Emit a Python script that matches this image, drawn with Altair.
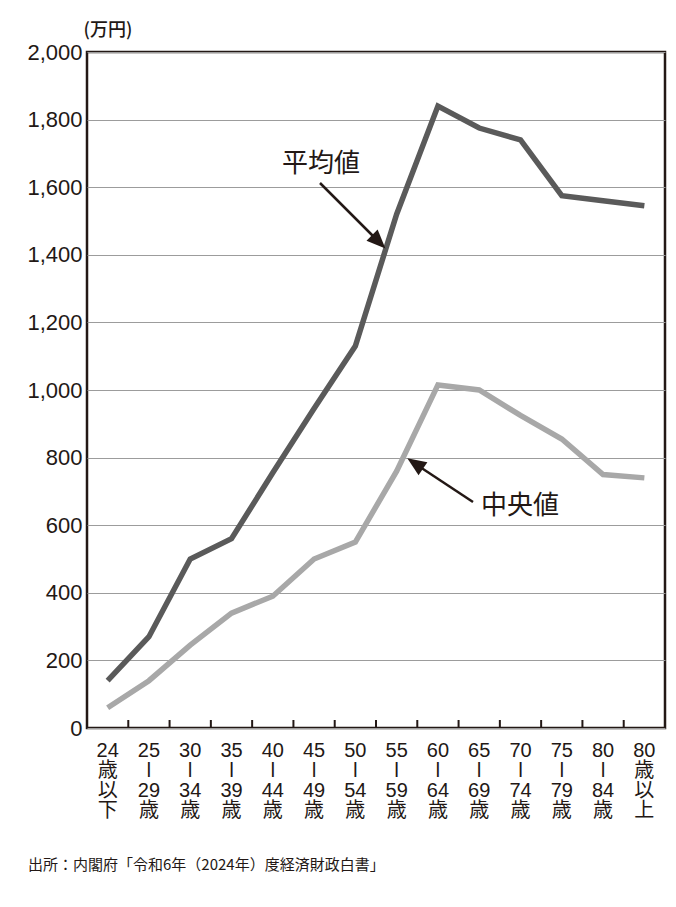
import altair as alt
import pandas as pd

# Age brackets of the household head (multi-line labels, split on "\n")
ages = [
    "24\n歳\n以\n下", "25\nǀ\n29\n歳", "30\nǀ\n34\n歳", "35\nǀ\n39\n歳",
    "40\nǀ\n44\n歳", "45\nǀ\n49\n歳", "50\nǀ\n54\n歳", "55\nǀ\n59\n歳",
    "60\nǀ\n64\n歳", "65\nǀ\n69\n歳", "70\nǀ\n74\n歳", "75\nǀ\n79\n歳",
    "80\nǀ\n84\n歳", "80\n歳\n以\n上",
]
# Financial assets, 10k yen
mean_values = [140, 270, 500, 560, 755, 945, 1130, 1520, 1840, 1775, 1740, 1575, 1560, 1545]
median_values = [60, 140, 245, 340, 390, 500, 550, 760, 1015, 1000, 925, 855, 750, 740]
series_names = ["平均値", "中央値"]
y_ticks = list(range(0, 2001, 200))
source_note = "出所：内閣府「令和6年（2024年）度経済財政白書」"

df = pd.concat([
    pd.DataFrame({"age": ages, "series": series_names[0], "value": mean_values}),
    pd.DataFrame({"age": ages, "series": series_names[1], "value": median_values}),
])

W, H = 578, 676
INK = "#231815"
LATIN = "'Liberation Sans', 'Noto Sans CJK JP', sans-serif"
CJK = "'Noto Sans CJK JP', sans-serif"

x_scale = alt.Scale(type="band", domain=ages, paddingInner=0, paddingOuter=0)
x_axis = alt.Axis(
    title=None, labelAngle=0, domain=False, ticks=False, grid=False,
    labelExpr="split(datum.label, '\\n')", labelFont=LATIN, labelFontSize=20,
    labelLineHeight=20, labelColor=INK, labelPadding=12, labelBaseline="top",
)

lines = alt.Chart(df).mark_line(strokeWidth=5.5, strokeJoin="miter", strokeCap="butt").encode(
    x=alt.X("age:N", sort=ages, scale=x_scale, bandPosition=0.5, axis=x_axis),
    y=alt.Y(
        "value:Q", scale=alt.Scale(domain=[0, 2000], nice=False),
        axis=alt.Axis(
            values=y_ticks, format=",d", grid=True, gridColor="#9c9c9c", gridWidth=1,
            domain=False, ticks=False, labelFont=LATIN, labelFontSize=22, labelColor=INK,
            labelPadding=5, title="(万円)", titleAngle=0, titleAlign="left",
            titleBaseline="bottom", titleX=-4, titleY=-13, titleFont=CJK,
            titleFontSize=18, titleFontWeight=500, titleColor=INK,
        ),
    ),
    color=alt.Color("series:N", scale=alt.Scale(domain=series_names, range=["#5a5a5a", "#a8a8a8"]), legend=None),
    detail="series:N",
)

# Short inward ticks on the x axis at the band boundaries
tick_df = pd.DataFrame({"age": ages[1:]})
x_ticks = alt.Chart(tick_df).mark_rule(color=INK, strokeWidth=2).encode(
    x=alt.X("age:N", sort=ages, scale=x_scale, bandPosition=0, axis=x_axis),
    y=alt.value(H - 8),
    y2=alt.value(H),
)


def annotation(label, text_xy, shaft, head_xy, head_angle):
    src = alt.Data(values=[{"label": label}])
    text = alt.Chart(src).mark_text(
        font=CJK, fontSize=26, color=INK, align="center", baseline="middle"
    ).encode(text="label:N", x=alt.value(text_xy[0]), y=alt.value(text_xy[1]))
    rule = alt.Chart(src).mark_rule(color=INK, strokeWidth=2.5).encode(
        x=alt.value(shaft[0]), y=alt.value(shaft[1]),
        x2=alt.value(shaft[2]), y2=alt.value(shaft[3]),
    )
    head = alt.Chart(src).mark_point(
        shape="M0,-1L0.75,0.8L-0.75,0.8Z", filled=True, color=INK, opacity=1,
        size=440, angle=head_angle, strokeWidth=0,
    ).encode(x=alt.value(head_xy[0]), y=alt.value(head_xy[1]))
    return text + rule + head


mean_note = annotation("平均値", (234, 112), (233, 131, 292, 190), (291, 189), 135)
median_note = annotation("中央値", (433, 454), (386, 450, 330, 413), (329, 412), 304)

source = alt.Chart(alt.Data(values=[{"t": source_note}])).mark_text(
    font=CJK, fontSize=15, color=INK, align="left", baseline="middle"
).encode(text="t:N", x=alt.value(-59), y=alt.value(813))

chart = alt.layer(lines, x_ticks, mean_note, median_note, source).properties(
    width=W, height=H,
    autosize=alt.AutoSizeParams(type="none"),
    padding={"left": 87, "top": 52, "right": 11, "bottom": 179},
    background="white",
).configure_view(stroke=INK, strokeWidth=2.5)

chart.save("out.html", embed_options={"renderer": "svg", "actions": False})
